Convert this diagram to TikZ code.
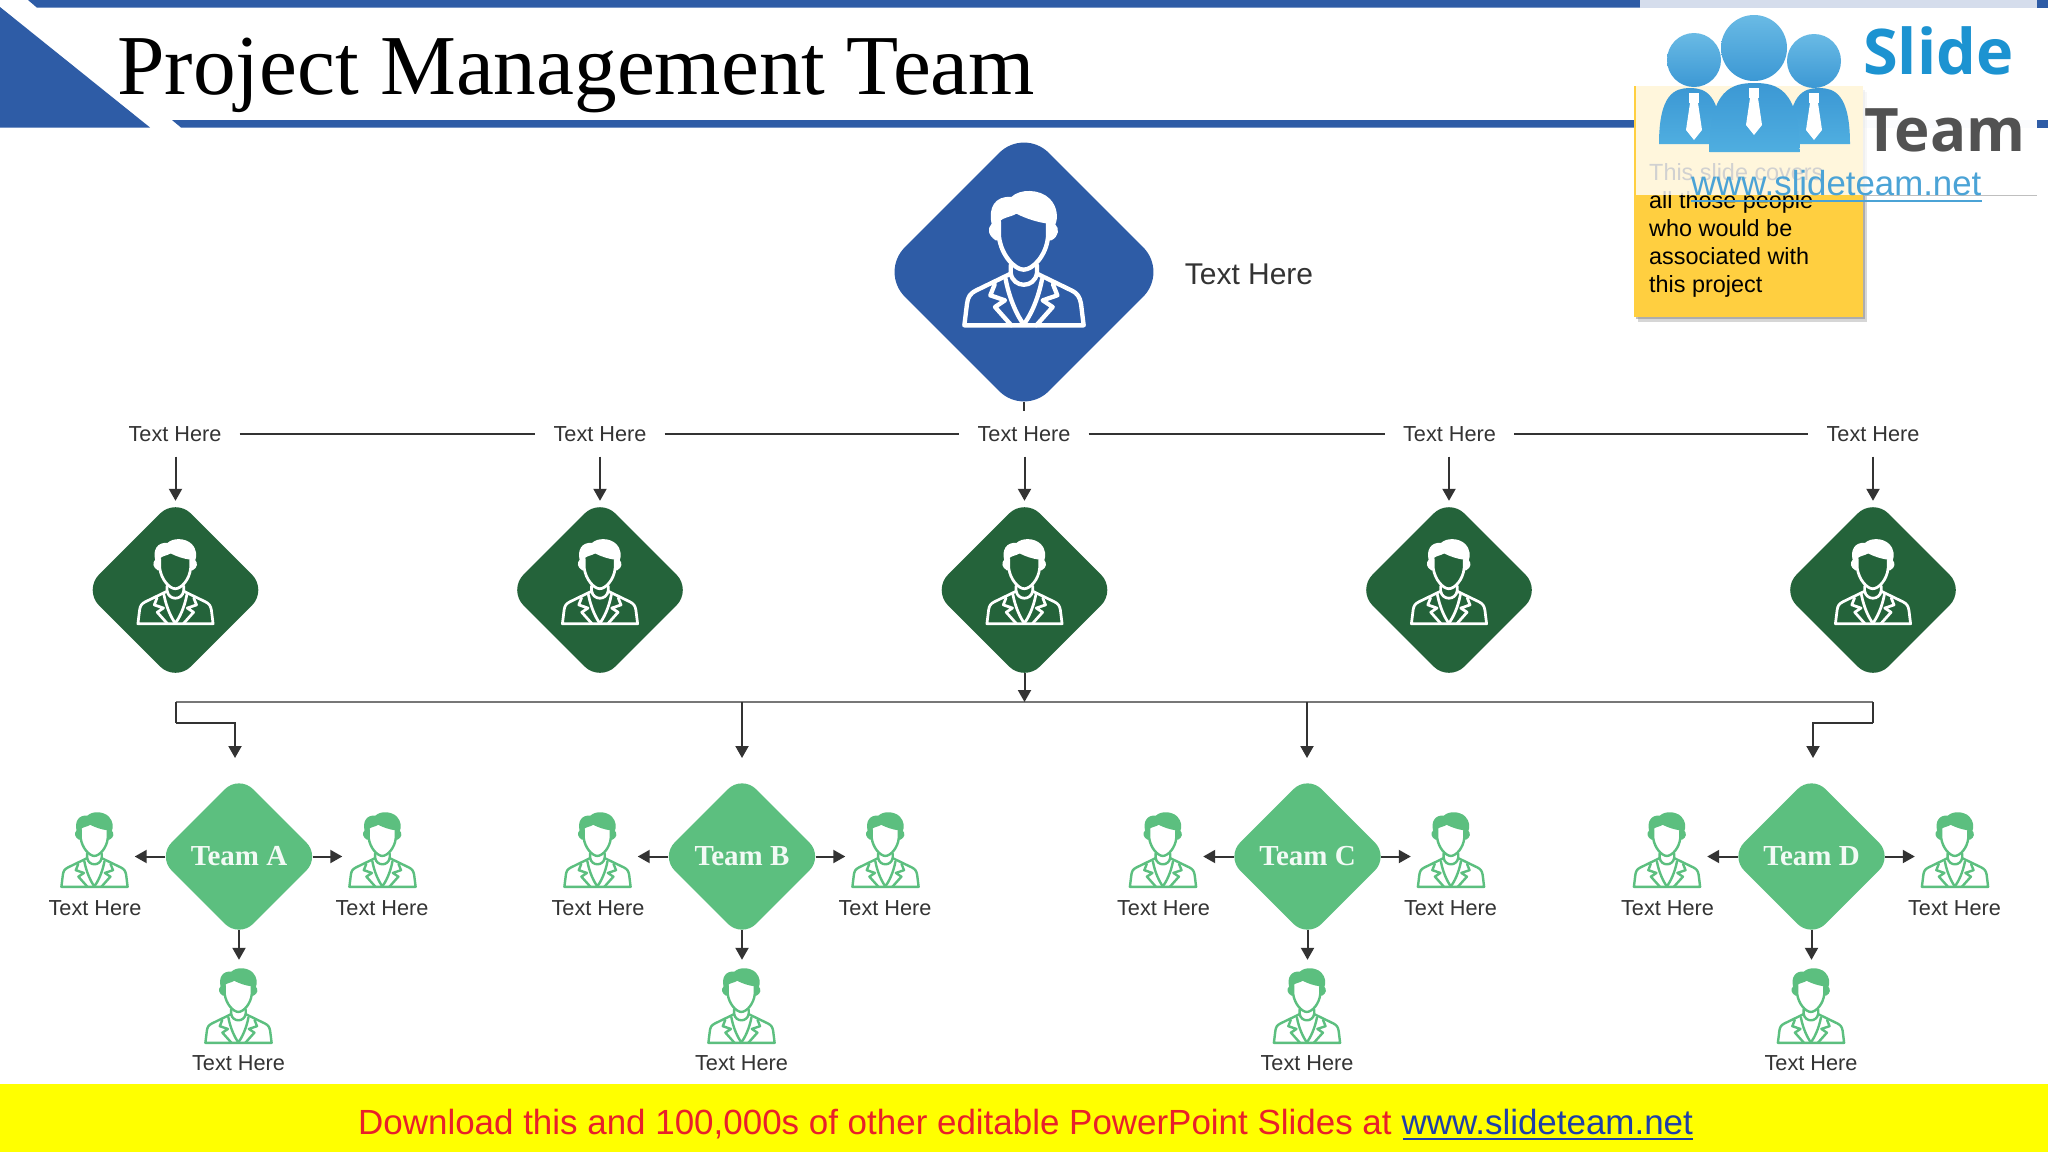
\documentclass[tikz,border=0pt]{standalone}
\usepackage{fontspec}
\setmainfont{Liberation Sans}
\newfontfamily\serifface{Liberation Serif}
\newfontfamily\logoface{Open Sans}
\usetikzlibrary{shapes.geometric,arrows.meta,calc}
\definecolor{brandblue}{HTML}{2E5CA6}
\definecolor{palebar}{HTML}{D5DDEC}
\definecolor{darkgreen}{HTML}{24633A}
\definecolor{midgreen}{HTML}{5CBF7F}
\definecolor{inkgrey}{HTML}{333333}
\definecolor{busgrey}{HTML}{777777}
\definecolor{noteyellow}{HTML}{FFCF40}
\definecolor{logoblue}{HTML}{4FAEE0}
\definecolor{logodeep}{HTML}{3C98D4}
\definecolor{slideblue}{HTML}{1C93D1}
\definecolor{linkblue}{HTML}{4BA3D6}
\definecolor{footred}{HTML}{E8202A}
\definecolor{footblue}{HTML}{1F3FA8}
\definecolor{footyellow}{HTML}{FFFF00}
\newcommand{\fs}[1]{\fontsize{#1}{#1}\selectfont}
\tikzset{
  rdiamond/.style={diamond,aspect=1,inner sep=0pt,draw=none},
  topdiamond/.style={rdiamond,fill=brandblue,minimum size=288pt,rounded corners=35pt},
  leaddiamond/.style={rdiamond,fill=darkgreen,minimum size=184pt,rounded corners=22pt},
  teamdiamond/.style={rdiamond,fill=midgreen,minimum size=163pt,rounded corners=20pt,
    text=white!92!midgreen,font=\serifface\bfseries\fs{29}},
  headlabel/.style={inner xsep=18pt,inner ysep=0pt,minimum height=45pt,text=inkgrey,font=\fs{21.7}},
  plainlabel/.style={inner sep=0pt,text=inkgrey,font=\fs{21.7}},
  iconbox/.style={inner sep=0pt,minimum width=80pt,minimum height=92pt},
  arr/.style={draw=inkgrey,line width=2pt,-{Triangle[length=12pt,width=13pt]}},
  stub/.style={draw=inkgrey,line width=2pt},
  bus/.style={draw=busgrey,line width=2pt},
}
% name, x, y, scale, colour
\newcommand{\personicon}[5]{%
  \node[iconbox] (#1) at (#2,#3) {};
  \pgfmathsetmacro{\iconlw}{13*#4}
  \begin{scope}[shift={(#1)},scale=#4,shift={(-433,-386)},line width=\iconlw pt,line join=round,line cap=round,draw=#5,fill=#5]
    \fill (348,330) .. controls (325,315) and (322,295) .. (336,280) .. controls (325,235) and (345,195) .. (395,200) .. controls (420,175) and (480,175) .. (510,205) .. controls (535,230) and (535,265) .. (527,282) .. controls (540,295) and (538,318) .. (515,330) -- (505,330) -- (505,280) .. controls (470,275) and (440,265) .. (410,250) .. controls (390,262) and (370,260) .. (358,275) -- (358,330) -- cycle;
    \draw (358,275) -- (358,320) .. controls (365,375) and (405,418) .. (432,418) .. controls (460,418) and (500,375) .. (505,320) -- (505,280);
    \draw (393,405) -- (393,428) .. controls (400,475) and (465,475) .. (472,428) -- (472,405);
    \draw (393,430) -- (290,480) .. controls (270,490) and (265,500) .. (262,520) -- (254,585) -- (612,585) -- (604,520) .. controls (600,500) and (595,490) .. (575,480) -- (472,430);
    \draw (345,462) -- (332,495) -- (376,510) -- (346,530) -- (395,585);
    \draw (520,462) -- (533,495) -- (489,510) -- (519,530) -- (470,585);
    \draw (378,447) .. controls (390,510) and (415,560) .. (432,582) .. controls (450,560) and (475,510) .. (487,447);
  \end{scope}}
% logo figure: head x, head y, head r, body half width, body top, body bottom, body centre x
\newcommand{\logofigure}[7]{%
  \shade[top color=logoblue!85!white,bottom color=logodeep] (#1,#2) circle[radius=#3];
  \shade[top color=logodeep,bottom color=logoblue] (#7-#4,#6) .. controls (#7-#4,#5+6) and (#7-#4*0.5,#5) .. (#7,#5) .. controls (#7+#4*0.5,#5) and (#7+#4,#5+6) .. (#7+#4,#6) -- cycle;
  \fill[white] (#1-5,#5+5) rectangle (#1+5,#5+15);
  \fill[white] (#1-4,#5+15) -- (#1+4,#5+15) -- (#1+8,#5+42) -- (#1,#5+52) -- (#1-8,#5+42) -- cycle;}
\begin{document}
\begin{tikzpicture}[x=1pt,y=-1pt]
\useasboundingbox (0,0) rectangle (2048,1152);
\fill[white] (0,0) rectangle (2048,1152);
% header
\fill[brandblue] (28,0) -- (1640,0) -- (1640,7.7) -- (37,7.7) -- cycle;
\fill[palebar] (1640,0) rectangle (2037,7.7);
\fill[brandblue] (2037,0) rectangle (2048,7.7);
\fill[brandblue] (0,7) -- (150,127.5) -- (0,127.5) -- cycle;
\fill[brandblue] (172,120) -- (1634,120) -- (1634,127.5) -- (181,127.5) -- cycle;
\fill[brandblue] (2037,120) rectangle (2048,127.5);
\fill[palebar!55] (1863,120) rectangle (2037,127.5);
\node[anchor=base west,inner sep=0pt,text=black,font=\serifface\fs{85.3}] (title) at (117,94) {Project Management Team};
% note
\fill[black!45,opacity=.35] (1638,92) rectangle (1867,322);
\fill[black!45,opacity=.55] (1636,90) rectangle (1865,319);
\fill[noteyellow] (1634,86) rectangle (1863,317);
\node[anchor=north west,inner sep=0pt,align=left,text=black,font=\fontsize{23.4}{28.2}\selectfont] (note) at (1649,163) {This slide covers\\all those people\\who would be\\associated with\\this project};
% logo panel
\fill[white,opacity=.82] (1636,8) rectangle (2037,195);
\draw[black!25,line width=.6pt] (1864,195) -- (2037,195);
\logofigure{1694}{60}{27}{31}{88}{144}{1690}
\logofigure{1814}{61}{27}{31}{88}{144}{1819}
\logofigure{1754}{48}{33}{45}{83}{152}{1754.5}
\node[anchor=base west,inner sep=0pt,text=slideblue,font=\logoface\bfseries\fs{63}] (slidewm) at (1863,74) {Slide};
\node[anchor=base west,inner sep=0pt,text=black!68,font=\logoface\bfseries\fs{60}] (teamwm) at (1864,151) {Team};
\node[anchor=base west,inner sep=0pt,text=linkblue,font=\fs{34.8}] (url) at (1691,195.5) {www.slideteam.net};
\draw[linkblue,line width=2pt] (url.base west)++(0,5) -- ++(291,0);
% top of tree
\node[topdiamond] (boss) at (1024,272) {};
\personicon{bossicon}{1024}{259}{0.3333}{white}
\node[plainlabel,font=\fs{30}] (bosslabel) at (1249,274) {Text Here};
% second level
\foreach \i/\lx/\dx in {1/175/175.5,2/600/600,3/1024/1024.5,4/1449.5/1449,5/1873/1873}{
  \node[headlabel] (h\i) at (\lx,434) {Text Here};
  \node[leaddiamond] (lead\i) at (\dx,590) {};
  \personicon{leadicon\i}{\dx}{582}{0.21}{white}
  \draw[arr,shorten >=-3pt] (h\i.south -| lead\i.north) -- (lead\i.north);
}
\draw[stub] (boss.south) ++(0,-14.5) -- (h3.north);
\draw[stub] (h1) -- (h2);
\draw[stub] (h2) -- (h3);
\draw[stub] (h3) -- (h4);
\draw[stub] (h4) -- (h5);
% team level
\foreach \t/\cx in {A/239,B/742,C/1307.5,D/1811.5}{
  \node[teamdiamond] (team\t) at (\cx,856.5) {Team \t};
  \personicon{left\t}{\cx-144.5}{850}{0.185}{midgreen}
  \personicon{right\t}{\cx+143.5}{850}{0.185}{midgreen}
  \personicon{down\t}{\cx-0.5}{1006}{0.185}{midgreen}
  \node[plainlabel] (leftlabel\t) at (\cx-144,908) {Text Here};
  \node[plainlabel] (rightlabel\t) at (\cx+143,908) {Text Here};
  \node[plainlabel] (downlabel\t) at (\cx-0.5,1063) {Text Here};
  \draw[arr,shorten <=-8pt] (team\t.west) -- (team\t.west -| left\t.east);
  \draw[arr,shorten <=-8pt] (team\t.east) -- (team\t.east -| right\t.west);
  \draw[arr,shorten <=-8pt] (team\t.south) -- (team\t.south |- down\t.north);
}
% bus
\coordinate (busleft) at (175.5,702);
\coordinate (busright) at (1873,702);
\coordinate (busmid) at (1024.5,702);
\coordinate (bendA) at (175.5,722.5);
\coordinate (bendD) at (1873,722.5);
\coordinate (dropA) at (235,758);
\coordinate (dropB) at (742,758);
\coordinate (dropC) at (1307,758);
\coordinate (dropD) at (1813,758);
\draw[bus] (busleft) -- (busright);
\draw[arr] (lead3.south) ++(0,-9) -- (busmid);
\draw[stub] (busleft) -- (bendA);
\draw[stub] (busright) -- (bendD);
\draw[arr] (bendA) -| (dropA);
\draw[arr] (bendD) -| (dropD);
\draw[arr] (dropB |- busleft) -- (dropB);
\draw[arr] (dropC |- busleft) -- (dropC);
% footer
\fill[footyellow] (0,1084) rectangle (2048,1152);
\node[anchor=base west,inner sep=0pt,font=\fs{34.95}] (footer) at (358,1134) {\textcolor{footred}{Download this and 100,000s of other editable PowerPoint Slides at }\textcolor{footblue}{www.slideteam.net}};
\draw[footblue,line width=2pt] (footer.base east)++(-290,5) -- ++(290,0);
\end{tikzpicture}
\end{document}
